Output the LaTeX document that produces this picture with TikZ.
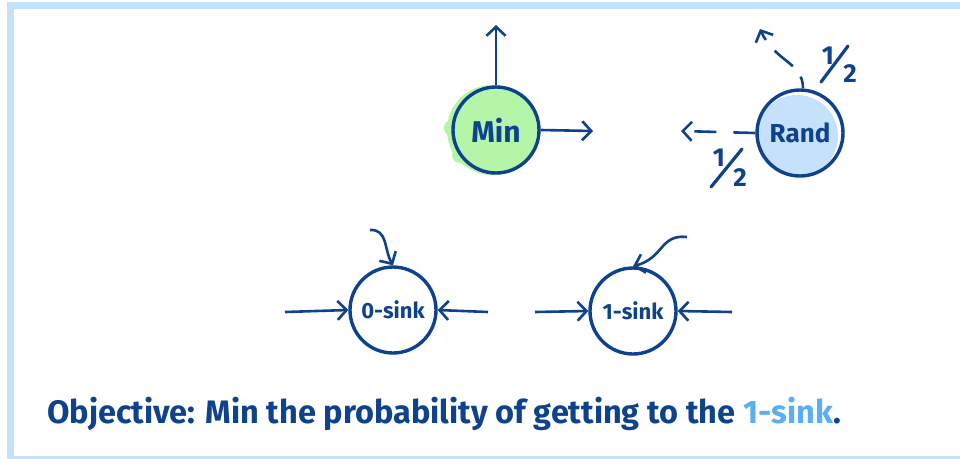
\documentclass[tikz,border=0pt]{standalone}
\usepackage{fontspec}
\setmainfont{Fira Sans}
\usetikzlibrary{arrows.meta}
\definecolor{ink}{RGB}{14,66,140}
\definecolor{framec}{RGB}{197,226,251}
\definecolor{greenf}{RGB}{180,245,168}
\definecolor{bluef}{RGB}{197,225,251}
\definecolor{lightink}{RGB}{90,174,245}
\tikzset{
  state/.style={circle, draw=ink, line width=3.4pt, minimum size=86pt, inner sep=0pt, text=ink},
  conn/.style={draw=ink, line width=2.6pt, -{Straight Barb[length=9pt,width=19pt,line width=2.6pt]}},
  dconn/.style={conn, dash pattern=on 22pt off 17pt},
  digit/.style={text=ink, font=\bfseries\fontsize{26}{26}\selectfont, inner sep=0pt},
  slash/.style={draw=ink, line width=3.2pt, line cap=round}
}
\begin{document}
\begin{tikzpicture}[x=1pt,y=-1pt]
\useasboundingbox (0,0) rectangle (960,458);
\clip (0,0) rectangle (960,458);
\draw[framec, line width=7pt] (10.5,5.5) rectangle (990,459.5);
% fills
\fill[greenf] (492,130) circle (45);
\fill[greenf] (452,128) circle (8);
\fill[greenf] (460,155) circle (8);
\fill[bluef] (797,136) circle (41);
% nodes
\node[state, font=\bfseries\fontsize{30}{30}\selectfont] (min) at (496,130) {Min};
\node[state, font=\bfseries\fontsize{26}{26}\selectfont] (rand) at (800,133) {Rand};
\node[state, font=\bfseries\fontsize{22}{22}\selectfont] (sink0) at (393,310) {0-sink};
\node[state, font=\bfseries\fontsize{22}{22}\selectfont] (sink1) at (633,311) {1-sink};
% coordinates
\coordinate (minup) at (496,25);
\coordinate (minright) at (593,131);
\coordinate (randleft) at (681,131);
\coordinate (randup) at (760,29);
\coordinate (s0l) at (285,312);
\coordinate (s0r) at (488,312);
\coordinate (s0t) at (370,230);
\coordinate (s1l) at (535,312);
\coordinate (s1r) at (732,312);
\coordinate (s1t) at (687,237);
% connectors
\draw[conn] (min.north) -- (minup);
\draw[conn] (min.east) -- (minright);
\draw[dconn] (rand.west) -- (randleft);
\draw[conn, dash pattern=on 12pt off 13pt on 24pt off 14pt] (rand.north) ++(3,0) .. controls (803,62) and (775,62) .. (randup);
\draw[conn] (s0l) -- (sink0.west);
\draw[conn] (s0r) -- (sink0.east);
\draw[conn] (s0t) .. controls (388,229) and (384,250) .. (sink0.north);
\draw[conn] (s1l) -- (sink1.west);
\draw[conn] (s1r) -- (sink1.east);
\draw[conn] (s1t) .. controls (660,234) and (664,258) .. (sink1.north);
% probability labels 1/2
\node[digit] (h1a) at (828,56) {1};
\node[digit] (h1b) at (850,74) {2};
\draw[slash] (848,46) -- (821,82);
\node[digit] (h2a) at (719,158) {1};
\node[digit] (h2b) at (740,178) {2};
\draw[slash] (742,149) -- (711,187);
% objective
\node[anchor=base west, text=ink, font=\bfseries\fontsize{32.5}{32.5}\selectfont, inner sep=0pt] (obj) at (47,423)
  {Objective: Min the probability of getting to the \textcolor{lightink}{1-sink}.};
\end{tikzpicture}
\end{document}
